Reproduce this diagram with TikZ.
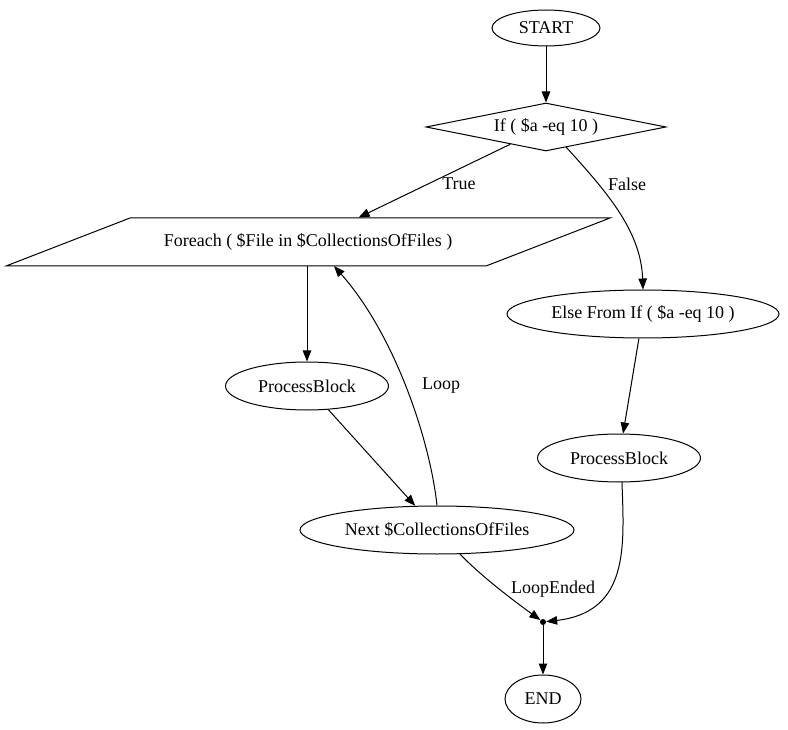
\documentclass[tikz,border=0pt]{standalone}
\usepackage{fontspec}
\setmainfont{Liberation Serif}
\usetikzlibrary{shapes.geometric,arrows.meta}
\tikzset{
  base/.style={draw=black,line width=1pt,inner sep=0pt,font=\fontsize{18}{20}\selectfont},
  oval/.style={base,ellipse,minimum height=48pt},
  lbl/.style={font=\fontsize{18}{20}\selectfont,inner sep=0pt},
  edge/.style={line width=1pt,-{Triangle[length=11pt,width=8.5pt]}},
}
\newcommand{\zt}[1]{\makebox[0pt]{#1}}
\begin{document}
\begin{tikzpicture}[x=1pt,y=-1pt]
\useasboundingbox (0,0) rectangle (788,730);
\node[oval,minimum width=108pt,minimum height=36pt] (start) at (546,28) {\zt{START}};
\node[base,diamond,minimum width=240pt,minimum height=48pt,aspect=5] (if) at (546,127) {\zt{If ( \$a -eq 10 )}};
\node[base,draw=none,rectangle,minimum width=480pt,minimum height=48pt] (fe) at (308,242) {\zt{Foreach ( \$File in \$CollectionsOfFiles )}};
\draw[line width=1pt] (130,218) -- (610,218) -- (486,266) -- (6,266) -- cycle;
\node[oval,minimum width=272pt] (else) at (643,314) {\zt{Else From If ( \$a -eq 10 )}};
\node[oval,minimum width=163pt] (pb1) at (307,386) {\zt{ProcessBlock}};
\node[oval,minimum width=163pt] (pb2) at (619,458) {\zt{ProcessBlock}};
\node[oval,minimum width=274pt] (next) at (437,530) {\zt{Next \$CollectionsOfFiles}};
\node[circle,fill=black,inner sep=0pt,minimum size=6pt] (j) at (543,622) {};
\node[oval,minimum width=76pt] (end) at (543,699) {\zt{END}};
\coordinate (loopend) at (334,266);
\coordinate (falsestart) at (566,147);
\coordinate (p2start) at (622,482);
\draw[edge] (start) -- (if);
\draw[edge] (if) -- (fe);
\draw[edge] (falsestart) .. controls (605,190) and (641,230) .. (else.north);
\draw[edge] (pb1 |- fe.south) -- (pb1);
\draw[edge] (pb1) -- (next);
\draw[edge] (next.north) .. controls (430,440) and (395,335) .. (loopend);
\draw[edge] (else) -- (pb2);
\draw[edge] (next) .. controls (480,575) and (510,598) .. (j);
\draw[edge] (p2start) .. controls (624,545) and (630,612) .. (j);
\draw[edge] (j) -- (end);
\node[lbl] (tl) at (459,184) {True};
\node[lbl] (fl) at (627,184) {False};
\node[lbl] (ll) at (441,386) {Loop};
\node[lbl] (lel) at (553,589) {LoopEnded};
\end{tikzpicture}
\end{document}
